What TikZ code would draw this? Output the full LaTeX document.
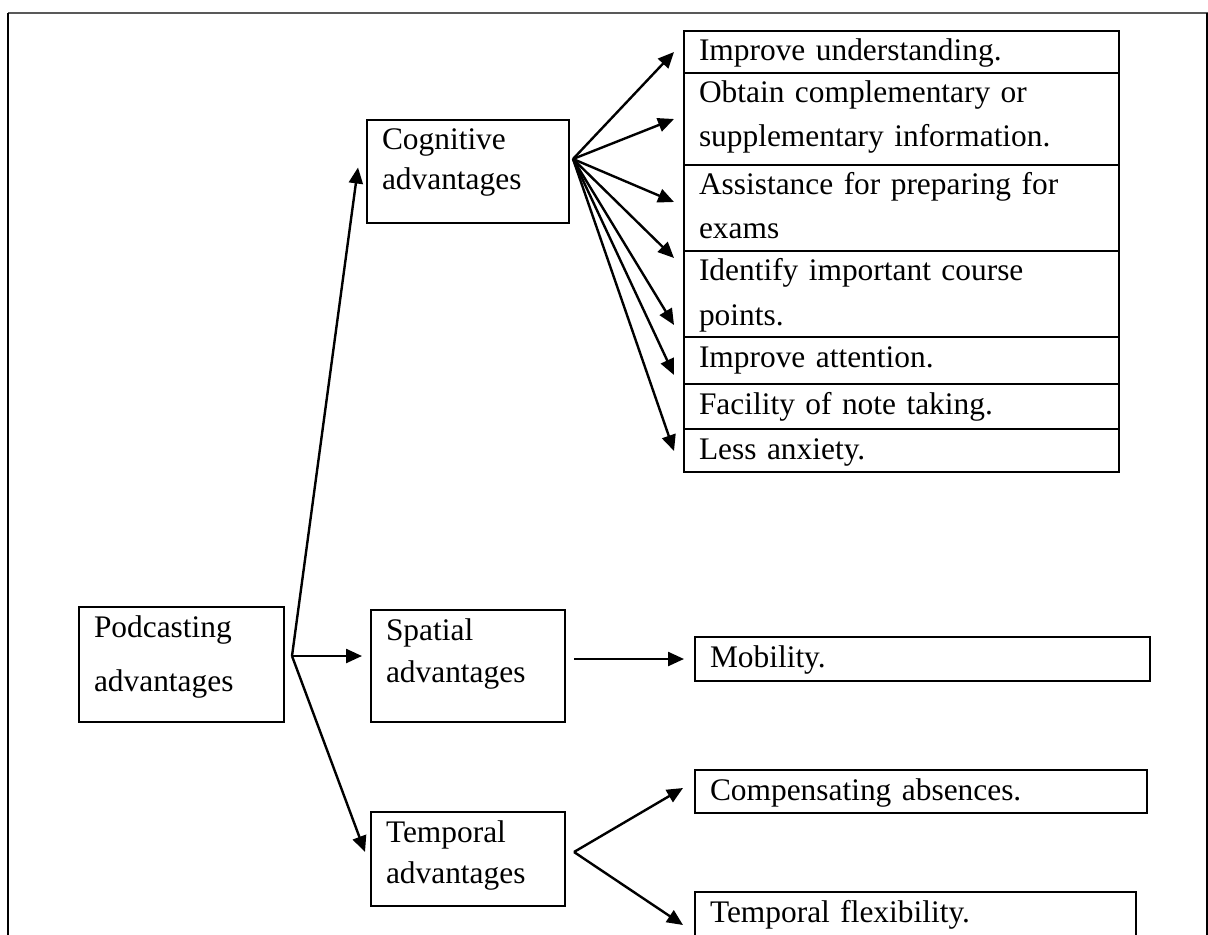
\documentclass[tikz,border=0pt]{standalone}
\usepackage{fontspec}
\setmainfont{Liberation Serif}
\usetikzlibrary{arrows.meta,positioning}

\tikzset{
  box/.style={draw, line width=1.2pt, anchor=north west, inner xsep=7.5pt, inner ysep=0pt,
    outer sep=0pt, align=left, text height=15pt, font=\fontsize{15.7}{22}\selectfont},
  cell/.style={box, text width=202.5pt},
  arr/.style={line width=1.2pt, -{Triangle[length=8pt,width=7pt]}}
}

\begin{document}
\begin{tikzpicture}[x=0.5pt,y=-0.5pt]
   \useasboundingbox (0,0) rectangle (1208,935);
   % frame
   \draw[line width=1.2pt, black!65] (8,13) -- (1208,13);
   \draw[line width=1pt] (8,13) -- (8,935);
   \draw[line width=1pt] (1206.5,13) -- (1206.5,935);

   % main boxes
   \node[box, text width=87.5pt, text depth=42.5pt, font=\fontsize{15.7}{27}\selectfont] (pod) at (79,607) {Podcasting\\advantages};
   \node[box, text width=86pt, text depth=36.5pt, font=\fontsize{15.7}{20}\selectfont] (cog) at (367,120) {Cognitive\\advantages};
   \node[box, text width=82pt, text depth=41pt, font=\fontsize{15.7}{21}\selectfont] (spa) at (371,610) {Spatial\\advantages};
   \node[box, text width=82pt, text depth=32pt, font=\fontsize{15.7}{20.5}\selectfont] (tem) at (371,812) {Temporal\\advantages};

   % cognitive list
   \node[cell, text depth=6pt] (c1) at (684,31) {Improve understanding.};
   \node[cell, text depth=31pt, below=0pt of c1] (c2) {Obtain complementary or\\supplementary information.};
   \node[cell, text depth=28pt, below=0pt of c2] (c3) {Assistance for preparing for\\exams};
   \node[cell, text depth=28pt, below=0pt of c3] (c4) {Identify important course\\points.};
   \node[cell, text depth=8.5pt, below=0pt of c4] (c5) {Improve attention.};
   \node[cell, text depth=7.5pt, below=0pt of c5] (c6) {Facility of note taking.};
   \node[cell, text depth=6.5pt, below=0pt of c6] (c7) {Less anxiety.};

   % spatial and temporal items
   \node[box, text width=212.5pt, text depth=7pt] (mob) at (695,637) {Mobility.};
   \node[box, text width=211pt, text depth=6.5pt] (com) at (695,770) {Compensating absences.};
   \node[box, text width=205.5pt, text depth=8pt] (tfl) at (695,892) {Temporal flexibility.};

   % forks
   \coordinate (podfork) at (292,656);
   \coordinate (cogfork) at ([xshift=2pt,yshift=6.25pt]cog.east);
   \coordinate (temfork) at ([xshift=4.5pt,yshift=3.5pt]tem.east);
   \foreach \ty [count=\i] in {52,119,202,258,325,375,451}
      \coordinate (cogtip\i) at (674,\ty);

   \draw[arr] (podfork) -- ([xshift=-4.5pt,yshift=2pt]cog.west);
   \draw[arr] (podfork) -- ([xshift=-4.5pt]spa.west |- podfork);
   \draw[arr] (podfork) -- ([xshift=-3pt,yshift=3.5pt]tem.west);

   \foreach \i in {1,...,7}
      \draw[arr] (cogfork) -- (cogtip\i);

   \draw[arr] ([xshift=4.5pt]spa.east |- mob.west) -- ([xshift=-5.5pt]mob.west);

   \draw[arr] (temfork) -- ([xshift=-6pt,yshift=1.75pt]com.west);
   \draw[arr] (temfork) -- ([xshift=-6pt,yshift=-5pt]tfl.west);
\end{tikzpicture}
\end{document}
